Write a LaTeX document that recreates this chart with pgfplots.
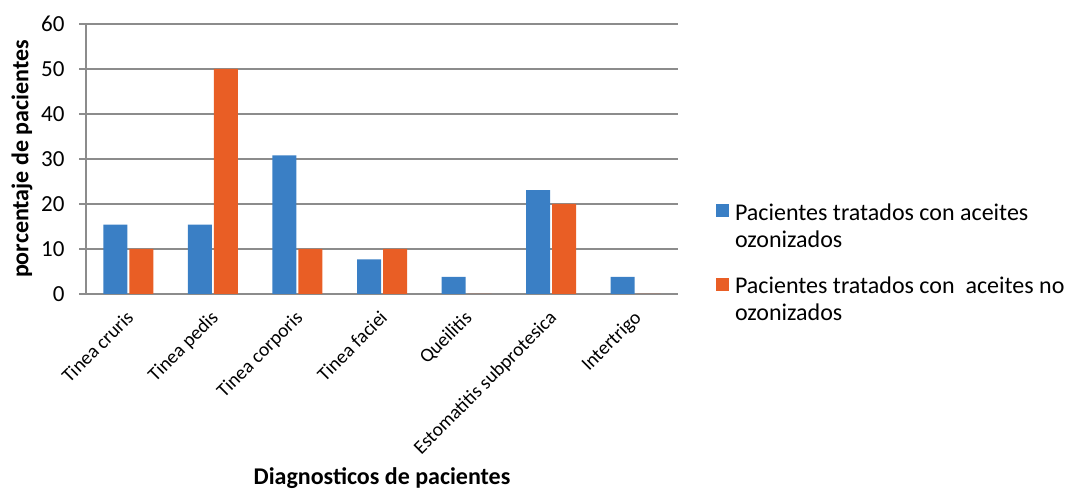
\documentclass[border=0pt]{standalone}
\usepackage{pgfplots}
\pgfplotsset{compat=1.18}
\usepackage{fontspec}
\setmainfont{Carlito}
\definecolor{cblue}{HTML}{3A7FC5}
\definecolor{corange}{HTML}{E95E25}
\definecolor{cgrid}{HTML}{8C8C8C}
\begin{document}
\begin{tikzpicture}[x=1pt,y=1pt]
\path[use as bounding box] (0,0) rectangle (1065,492);
\begin{axis}[
  at={(86pt,198pt)}, anchor=south west,
  scale only axis, width=592pt, height=270pt,
  ybar, bar width=24pt,
  xmin=-0.5, xmax=6.5, ymin=0, ymax=60,
  ytick={0,10,...,60},
  xtick={0,...,6},
  xticklabels={Tinea cruris,Tinea pedis,Tinea corporis,Tinea faciei,Queilitis,Estomatitis subprotesica,Intertrigo},
  x tick label style={rotate=45, anchor=north east, font=\fontsize{19.5}{22}\selectfont, inner sep=1pt, xshift=-7pt, yshift=-2.5pt},
  y tick label style={font=\fontsize{23}{26}\selectfont, xshift=-11pt},
  /pgf/number format/assume math mode=true,
  axis x line*=bottom, axis y line*=left,
  axis line style={cgrid, line width=1.2pt, -},
  ymajorgrids, grid style={cgrid, line width=1.1pt},
  major x tick style={draw=none},
  major y tick style={cgrid, line width=1.2pt},
  tick align=outside, major tick length=7pt,
  ylabel={\textbf{porcentaje de pacientes}},
  ylabel style={font=\fontsize{24}{28}\selectfont, at={(axis description cs:-0.108,0.5)}, anchor=center},
  xlabel={\textbf{Diagnosticos de pacientes}},
  xlabel style={font=\fontsize{24}{28}\selectfont, at={(axis description cs:0.5,-0.707)}, anchor=base},
  legend style={at={(axis description cs:1.064,0.344)}, anchor=north west, draw=none, fill=none,
    font=\fontsize{24}{27}\selectfont, cells={anchor=north west, align=left}, row sep=24pt, column sep=4pt, inner sep=0pt},
  legend image code/.code={\path (0pt,0pt); \fill[#1, draw=none] (0pt,-16pt) rectangle (13pt,-3pt);},
]
\addplot[fill=cblue, draw=none] coordinates {(0,15.4) (1,15.4) (2,30.8) (3,7.7) (4,3.8) (5,23.1) (6,3.8)};
\addlegendentry{Pacientes tratados con aceites\\ozonizados}
\addplot[fill=corange, draw=none] coordinates {(0,10) (1,50) (2,10) (3,10) (4,0) (5,20) (6,0)};
\addlegendentry{Pacientes tratados con \ aceites no\\ozonizados}
\end{axis}
\end{tikzpicture}
\end{document}
